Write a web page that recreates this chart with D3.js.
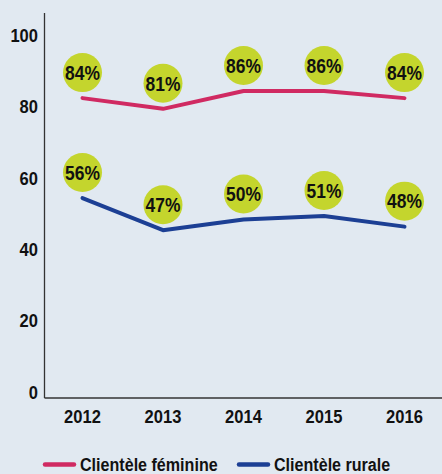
<html>
<head>
<style>
  body { margin: 0; background: #e1e9f1; }
  svg { display: block; }
  text { font-family: "Liberation Sans", Arial, sans-serif; font-weight: bold; fill: #111; }
</style>
</head>
<body>
<script src="https://d3js.org/d3.v7.min.js"></script>
<script>

var years = ['2012', '2013', '2014', '2015', '2016'];
var feminine = [84, 81, 86, 86, 84];
var rurale = [56, 47, 50, 51, 48];
var yTicks = [0, 20, 40, 60, 80, 100];
var seriesNames = ['Clientèle féminine', 'Clientèle rurale'];

var width = 442,
    height = 474;

var pinkColor = '#d02a62',
    blueColor = '#1c3f94',
    bubbleColor = '#c4d52d',
    bgColor = '#e1e9f1';

// the reference uses a condensed face, so squeeze a normal one
var squeeze = 0.87;

var svg = d3.select('body').append('svg')
    .attr('width', width)
    .attr('height', height);

svg.append('rect')
    .attr('width', width)
    .attr('height', height)
    .attr('fill', bgColor);

var x = d3.scalePoint()
    .domain(years)
    .range([82.5, 404.5]);

var y = d3.scaleLinear()
    .domain([0, 100])
    .range([398, 41]);

function label(parent, tx, ty, str, size, anchor) {
  return parent.append('text')
      .attr('transform', 'translate(' + tx + ',' + ty + ') scale(' + squeeze + ',1)')
      .attr('dy', '0.36em')
      .attr('text-anchor', anchor)
      .style('font-size', size + 'px')
      .text(str);
}

// axes lines
svg.append('line')
    .attr('x1', 44.5).attr('x2', 44.5)
    .attr('y1', 13).attr('y2', 398)
    .attr('stroke', '#333').attr('stroke-width', 1.3);

svg.append('line')
    .attr('x1', 44.5).attr('x2', width)
    .attr('y1', 398).attr('y2', 398)
    .attr('stroke', '#333').attr('stroke-width', 1.3);

// y tick labels (sit a little above their value)
yTicks.forEach(function(d) {
  label(svg, 38, y(d) - 6, d, 19, 'end');
});

// x tick labels
years.forEach(function(d) {
  label(svg, x(d), 416, d, 19, 'middle');
});

var line = d3.line()
    .x(function(d, i) { return x(years[i]); })
    .y(function(d) { return y(d); });

var series = [
  { values: feminine, color: pinkColor },
  { values: rurale, color: blueColor }
];

series.forEach(function(s) {
  svg.append('path')
      .datum(s.values)
      .attr('d', line)
      .attr('fill', 'none')
      .attr('stroke', s.color)
      .attr('stroke-width', 4)
      .attr('stroke-linecap', 'round')
      .attr('stroke-linejoin', 'round');
});

// value bubbles
series.forEach(function(s) {
  var g = svg.append('g');
  s.values.forEach(function(v, i) {
    var cx = x(years[i]),
        cy = y(v) - 25.5;
    g.append('circle')
        .attr('cx', cx)
        .attr('cy', cy)
        .attr('r', 19.5)
        .attr('fill', bubbleColor);
    label(g, cx, cy, v + '%', 20, 'middle');
  });
});

// legend
var legendItems = [
  { name: seriesNames[0], color: pinkColor, x: 45 },
  { name: seriesNames[1], color: blueColor, x: 239 }
];

legendItems.forEach(function(d) {
  svg.append('line')
      .attr('x1', d.x).attr('x2', d.x + 29)
      .attr('y1', 464.5).attr('y2', 464.5)
      .attr('stroke', d.color)
      .attr('stroke-width', 4.5)
      .attr('stroke-linecap', 'round');
  label(svg, d.x + 35, 464, d.name, 18.5, 'start');
});

</script>
</body>
</html>
